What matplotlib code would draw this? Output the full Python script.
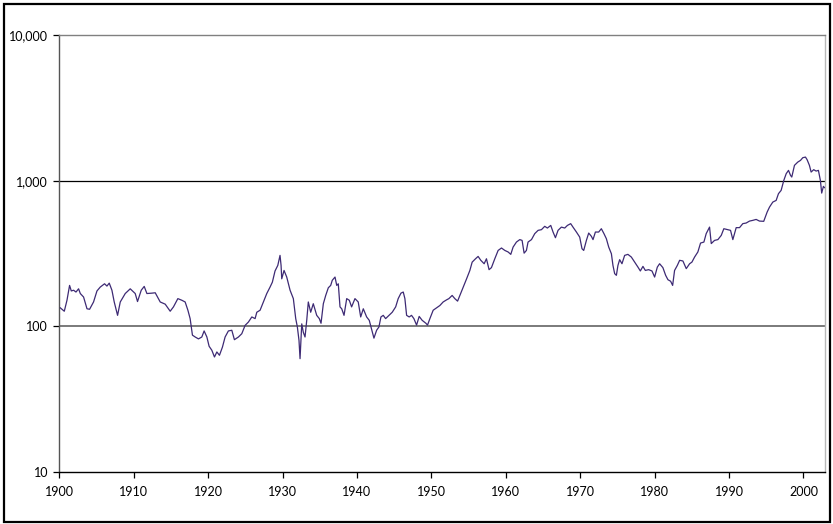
import matplotlib
matplotlib.use('Agg')
import matplotlib.pyplot as plt
from matplotlib.patches import Rectangle

# index level (log scale)
years = [
    1900.13, 1900.67, 1901.03, 1901.38, 1901.61, 1901.92, 1902.24, 1902.59, 1902.82, 1903.26,
    1903.72, 1904.07, 1904.60, 1905.06, 1905.50, 1906.08, 1906.40, 1906.71, 1907.07, 1907.38,
    1907.83, 1908.19, 1908.86, 1909.53, 1910.20, 1910.51, 1911.01, 1911.41, 1911.77, 1912.44,
    1912.89, 1913.56, 1914.23, 1914.90, 1915.34, 1915.93, 1916.47, 1916.91, 1917.28, 1917.58,
    1917.89, 1918.26, 1918.70, 1919.15, 1919.46, 1919.83, 1920.13, 1920.50, 1920.85, 1921.17,
    1921.52, 1921.92, 1922.28, 1922.72, 1923.18, 1923.53, 1924.07, 1924.52, 1924.97, 1925.41,
    1925.87, 1926.31, 1926.54, 1926.98, 1927.42, 1927.88, 1928.32, 1928.63, 1928.99, 1929.36,
    1929.66, 1929.80, 1929.89, 1930.20, 1930.56, 1931.01, 1931.45, 1931.77, 1931.99, 1932.21,
    1932.35, 1932.58, 1932.79, 1933.02, 1933.25, 1933.46, 1933.78, 1934.13, 1934.59, 1934.94,
    1935.17, 1935.48, 1935.80, 1936.15, 1936.47, 1936.68, 1937.05, 1937.28, 1937.49, 1937.72,
    1937.95, 1938.26, 1938.62, 1938.97, 1939.28, 1939.73, 1940.17, 1940.50, 1940.85, 1941.30,
    1941.65, 1941.96, 1942.28, 1942.64, 1942.95, 1943.22, 1943.53, 1943.85, 1944.30, 1944.74,
    1945.20, 1945.54, 1945.91, 1946.22, 1946.44, 1946.67, 1947.02, 1947.33, 1947.65, 1948.01,
    1948.36, 1948.76, 1949.26, 1949.48, 1949.80, 1950.24, 1950.70, 1951.14, 1951.58, 1952.04,
    1952.35, 1952.79, 1953.15, 1953.52, 1953.83, 1954.27, 1954.73, 1955.17, 1955.48, 1955.93,
    1956.28, 1956.64, 1957.09, 1957.40, 1957.75, 1958.07, 1958.52, 1958.97, 1959.42, 1959.87,
    1960.31, 1960.67, 1960.98, 1961.43, 1961.88, 1962.19, 1962.46, 1962.77, 1962.99, 1963.45,
    1963.89, 1964.34, 1964.79, 1965.23, 1965.59, 1966.04, 1966.35, 1966.67, 1967.02, 1967.47,
    1967.92, 1968.28, 1968.72, 1969.03, 1969.49, 1969.93, 1970.24, 1970.47, 1970.83, 1971.14,
    1971.50, 1971.72, 1972.04, 1972.48, 1972.84, 1973.19, 1973.51, 1973.83, 1974.19, 1974.40,
    1974.63, 1974.86, 1975.07, 1975.30, 1975.61, 1975.97, 1976.41, 1976.87, 1977.32, 1977.76,
    1978.08, 1978.43, 1978.75, 1979.19, 1979.64, 1980.00, 1980.36, 1980.67, 1981.11, 1981.48,
    1981.79, 1982.15, 1982.42, 1982.68, 1983.05, 1983.36, 1983.80, 1984.25, 1984.70, 1985.01,
    1985.37, 1985.81, 1986.17, 1986.62, 1986.93, 1987.38, 1987.61, 1988.05, 1988.50, 1988.95,
    1989.30, 1989.84, 1990.20, 1990.51, 1990.96, 1991.41, 1991.85, 1992.30, 1992.75, 1993.19,
    1993.64, 1994.09, 1994.66, 1995.12, 1995.44, 1995.88, 1996.33, 1996.64, 1997.00, 1997.36,
    1997.68, 1997.99, 1998.26, 1998.43, 1998.79, 1999.24, 1999.60, 1999.91, 2000.27, 2000.49,
    2000.80, 2001.03, 2001.38, 2001.70, 2002.01, 2002.28, 2002.45, 2002.68, 2002.82,
]
index_level = [
    134, 127, 151, 191, 175, 177, 172, 181, 168, 159,
    132, 131, 147, 175, 186, 196, 189, 198, 177, 147,
    119, 147, 168, 181, 168, 148, 177, 188, 168, 169,
    170, 147, 142, 127, 136, 155, 151, 147, 129, 113,
    87, 84.5, 82, 84.5, 93, 84.5, 73, 68.5, 61.6, 66.7,
    63.3, 72, 84.5, 93, 94, 81, 84.5, 89, 101.6, 107,
    116, 113, 125, 129, 147, 168, 186, 201, 240, 262,
    307, 262, 212, 242, 218, 177, 155, 113, 99, 80,
    60, 104, 91, 84.5, 110, 147, 125, 143, 119, 113,
    105, 143, 163, 184, 191, 207, 218, 191, 196, 136,
    132, 119, 155, 151, 136, 155, 147, 116, 132, 116,
    110, 96, 83, 94, 99, 116, 119, 113, 119, 125,
    136, 155, 169, 172, 155, 119, 116, 119, 113, 102,
    117, 110, 105, 102, 113, 129, 134, 139, 147, 152,
    155, 163, 155, 149, 163, 186, 212, 242, 276, 291,
    302, 284, 269, 291, 245, 253, 291, 332, 345, 332,
    324, 312, 350, 379, 394, 389, 318, 332, 379, 394,
    433, 456, 461, 486, 473, 493, 444, 406, 456, 480,
    473, 493, 507, 480, 444, 410, 341, 332, 389, 437,
    415, 394, 444, 444, 468, 433, 400, 350, 315, 262,
    230, 224, 262, 287, 269, 307, 312, 299, 276, 255,
    240, 258, 242, 245, 240, 218, 255, 269, 253, 224,
    209, 204, 191, 242, 262, 284, 281, 249, 269, 276,
    299, 324, 373, 379, 433, 480, 370, 389, 394, 421,
    468, 461, 456, 394, 476, 476, 507, 512, 528, 534,
    542, 528, 526, 609, 659, 713, 732, 814, 858, 1005,
    1117, 1177, 1088, 1059, 1274, 1342, 1378, 1438, 1452, 1393,
    1274, 1146, 1190, 1164, 1177, 1000, 822, 914, 896,
]

x_ticks = [1900, 1910, 1920, 1930, 1940, 1950, 1960, 1970, 1980, 1990, 2000]
y_ticks = [10, 100, 1000, 10000]
y_tick_labels = ['10', '100', '1,000', '10,000']

plt.rcParams['font.family'] = ['Lato', 'DejaVu Sans']

fig = plt.figure(figsize=(8.33, 5.24), dpi=100)
ax = fig.add_axes([0.0712, 0.0992, 0.9188, 0.834])

# horizontal gridlines
ax.axhline(100, color='#707070', lw=1.3, zorder=1)
ax.axhline(1000, color='black', lw=0.9, zorder=1)

ax.plot(years, index_level, color='#3d2a74', lw=0.9, zorder=3)

ax.set_yscale('log')
ax.set_ylim(10, 10000)
ax.set_xlim(1900, 2002.85)
ax.set_yticks(y_ticks)
ax.set_yticklabels(y_tick_labels)
ax.yaxis.set_minor_locator(matplotlib.ticker.NullLocator())
ax.set_xticks(x_ticks)

ax.tick_params(axis='both', direction='out', length=4, width=0.9, labelsize=9, colors='black')
ax.tick_params(axis='y', pad=4)
ax.tick_params(axis='x', pad=6)

ax.spines['left'].set_color('#555555')
ax.spines['bottom'].set_color('black')
ax.spines['top'].set_color('#808080')
ax.spines['right'].set_color('#b8b8b8')
for s in ax.spines.values():
    s.set_linewidth(1.0)

# frame around the whole picture
fig.patches.append(Rectangle((3.5 / 833, 2.5 / 524), 826 / 833, 518 / 524,
                             transform=fig.transFigure, fill=False,
                             edgecolor='black', lw=1.6))

plt.savefig('out.png', dpi=100)
plt.close()
